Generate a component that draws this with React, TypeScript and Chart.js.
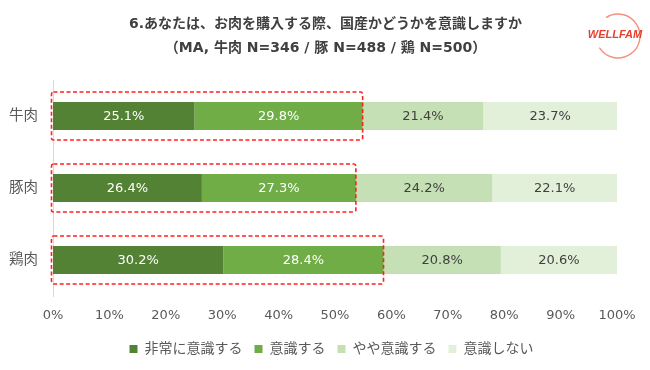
import React, { useEffect, useRef } from "react";
import { Chart, registerables } from "chart.js";
Chart.register(...registerables);

const categories = ["牛肉", "豚肉", "鶏肉"];
const seriesNames = ["非常に意識する", "意識する", "やや意識する", "意識しない"];
const veryConscious = [25.1, 26.4, 30.2];
const conscious = [29.8, 27.3, 28.4];
const somewhat = [21.4, 24.2, 20.8];
const notConscious = [23.7, 22.1, 20.6];
const xTicks = [0, 10, 20, 30, 40, 50, 60, 70, 80, 90, 100];
const titleLines = [
  "6.あなたは、お肉を購入する際、国産かどうかを意識しますか",
  "（MA, 牛肉 N=346 / 豚 N=488 / 鶏 N=500）",
];

const colors = ["#548235", "#70AD47", "#C5E0B4", "#E2F0D9"];
const labelColors = ["#FFFFFF", "#FFFFFF", "#404040", "#404040"];
const FONT = "'DejaVu Sans', 'Noto Sans CJK JP', sans-serif";

const labelPlugin = {
  id: "segLabels",
  afterDatasetsDraw(chart: any) {
    const ctx = chart.ctx;
    ctx.save();
    ctx.font = `13px ${FONT}`;
    ctx.textAlign = "center";
    ctx.textBaseline = "middle";
    chart.data.datasets.forEach((ds: any, di: number) => {
      const meta = chart.getDatasetMeta(di);
      meta.data.forEach((bar: any, i: number) => {
        const cx = (bar.x + bar.base) / 2;
        ctx.fillStyle = labelColors[di];
        ctx.fillText(ds.data[i].toFixed(1) + "%", cx, bar.y + 1);
      });
    });
    ctx.restore();
  },
};

const boxPlugin = {
  id: "redBoxes",
  afterDatasetsDraw(chart: any) {
    const ctx = chart.ctx;
    const xs = chart.scales.x;
    const ys = chart.scales.y;
    ctx.save();
    ctx.strokeStyle = "#FF2020";
    ctx.lineWidth = 1.6;
    ctx.setLineDash([4, 2.5]);
    categories.forEach((_, i) => {
      const sum = veryConscious[i] + conscious[i];
      const x0 = xs.getPixelForValue(0) - 1.5;
      const x1 = xs.getPixelForValue(sum);
      const cy = ys.getPixelForValue(i);
      const y0 = cy - 24;
      const y1 = cy + 24;
      ctx.beginPath();
      if ((ctx as any).roundRect) (ctx as any).roundRect(x0, y0, x1 - x0, y1 - y0, 2);
      else ctx.rect(x0, y0, x1 - x0, y1 - y0);
      ctx.stroke();
    });
    ctx.restore();
  },
};

const shiftPlugin = {
  id: "shiftBoxes",
  afterLayout(chart: any) {
    if (chart.legend) {
      chart.legend.left += 23;
      chart.legend.right += 23;
    }
    if (chart.titleBlock) {
      chart.titleBlock.left += 17;
      chart.titleBlock.right += 17;
    }
  },
};

const logoPlugin = {
  id: "logo",
  afterDraw(chart: any) {
    const ctx = chart.ctx;
    ctx.save();
    ctx.strokeStyle = "#F3907E";
    ctx.lineWidth = 1.4;
    ctx.beginPath();
    ctx.arc(618, 36, 22, (-123 * Math.PI) / 180, (148 * Math.PI) / 180);
    ctx.stroke();
    ctx.fillStyle = "#E8402E";
    ctx.font = `italic bold 11px 'Liberation Sans', sans-serif`;
    ctx.textAlign = "center";
    ctx.textBaseline = "middle";
    ctx.fillText("WELLFAM", 615, 35);
    ctx.restore();
  },
};

export default function App() {
  const ref = useRef<HTMLCanvasElement>(null);
  useEffect(() => {
    const seriesData = [veryConscious, conscious, somewhat, notConscious];
    const chart = new Chart(ref.current!, {
      type: "bar",
      data: {
        labels: categories,
        datasets: seriesNames.map((name, i) => ({
          label: name,
          data: seriesData[i],
          backgroundColor: colors[i],
          borderWidth: 0,
          categoryPercentage: 1,
          barPercentage: 0.39,
        })),
      },
      options: {
        indexAxis: "y",
        animation: false,
        responsive: false,
        maintainAspectRatio: false,
        layout: { padding: { left: 0, right: 33, top: 0, bottom: 4 } },
        scales: {
          x: {
            stacked: true,
            min: 0,
            max: 100,
            afterBuildTicks(scale: any) {
              scale.ticks = xTicks.map((v) => ({ value: v }));
            },
            afterFit(scale: any) {
              scale.height = 34;
            },
            grid: { display: false, drawTicks: false },
            border: { display: false },
            ticks: {
              color: "#595959",
              font: { size: 13, family: FONT },
              padding: 12,
              callback: (v: any) => v + "%",
            },
          },
          y: {
            stacked: true,
            afterFit(scale: any) {
              scale.width = 53;
            },
            grid: { display: false, drawTicks: false },
            border: { display: true, color: "#D9D9D9", width: 1 },
            ticks: {
              color: "#595959",
              font: { size: 14.5, family: FONT },
              padding: 15,
            },
          },
        },
        plugins: {
          title: {
            display: true,
            text: titleLines,
            color: "#404040",
            font: { size: 14, weight: "bold", family: FONT, lineHeight: "24px" },
            padding: { top: 12, bottom: 20 },
          },
          legend: {
            position: "bottom",
            labels: {
              color: "#595959",
              font: { size: 14, family: FONT },
              boxWidth: 8,
              boxHeight: 8,
              padding: 12,
            },
          },
          tooltip: { enabled: false },
        },
      },
      plugins: [shiftPlugin, labelPlugin, boxPlugin, logoPlugin],
    } as any);
    return () => chart.destroy();
  }, []);
  return (
    <div style={{ position: "fixed", left: 0, top: 0, width: 650, height: 370, background: "#fff" }}>
      <canvas ref={ref} width={650} height={370} style={{ width: 650, height: 370 }} />
    </div>
  );
}
